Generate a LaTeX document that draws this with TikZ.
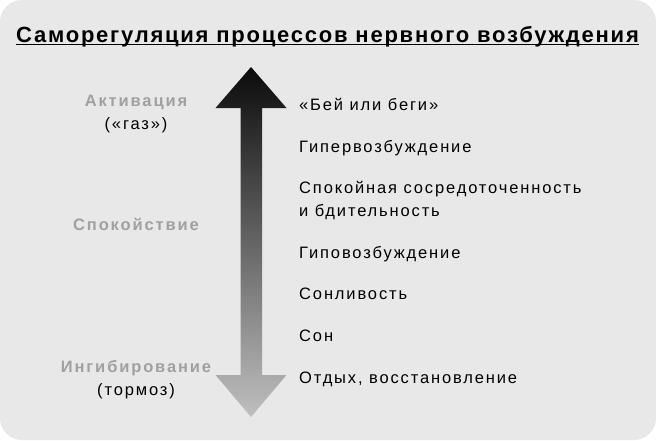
\documentclass[tikz,border=0pt]{standalone}
\usepackage{fontspec}
\setmainfont{Liberation Sans}
\newfontfamily\widefont[LetterSpace=11.3]{Liberation Sans}
\newfontfamily\titlefont[LetterSpace=8]{Liberation Sans}
\usepackage{tikz}
\definecolor{bgpanel}{HTML}{E8E8E8}
\definecolor{lblgray}{HTML}{A0A0A0}

\begin{document}
\begin{tikzpicture}[
        x=1pt, y=-1pt,
        lvl/.style={anchor=base west, inner sep=0pt, font=\widefont\fontsize{16.5}{23}\selectfont, align=left},
        side/.style={anchor=base, inner sep=0pt, font=\widefont\bfseries\fontsize{16.5}{23}\selectfont, text=lblgray},
        sub/.style={anchor=base, inner sep=0pt, font=\widefont\fontsize{16.5}{23}\selectfont}
      ]
      \useasboundingbox (0,0) rectangle (656,440);
      \fill[white] (0,0) rectangle (656,440);
      \fill[bgpanel, rounded corners=22pt] (0,0) rectangle (656,440);
      % title
      \node[anchor=base, inner sep=0pt, font=\titlefont\bfseries\fontsize{22}{26}\selectfont] (title) at (327.5,42)
        {Саморегуляция процессов нервного возбуждения};
      \draw[line width=1.5pt] ([yshift=-2.5pt]title.base west) -- ([yshift=-2.5pt]title.base east);
      % arrow
      \coordinate (up) at (251,67);
      \coordinate (down) at (251,417);
      \shade[top color=black!96, bottom color=black!25]
        (up) -- (286.5,108) -- (262,108) -- (262,375) -- (286.5,375) -- (down)
        -- (215.5,375) -- (240.5,375) -- (240.5,108) -- (215.5,108) -- cycle;
      % left side
      \node[side] (act) at (136,106) {Активация};
      \node[sub] (gas) at (136,129) {(«газ»)};
      \node[side] (calm) at (136,230) {Спокойствие};
      \node[side] (inh) at (136,372) {Ингибирование};
      \node[sub] (brake) at (136,395) {(тормоз)};
      % right side
      \foreach \t/\y [count=\i] in {{«Бей или беги»}/110, {Гипервозбуждение}/152,
          {Спокойная сосредоточенность\\и бдительность}/216, {Гиповозбуждение}/258,
          {Сонливость}/299, {Сон}/341, {Отдых, восстановление}/383} {
        \node[lvl] (s\i) at (299,\y) {\t};
      }
    \end{tikzpicture}
\end{document}
